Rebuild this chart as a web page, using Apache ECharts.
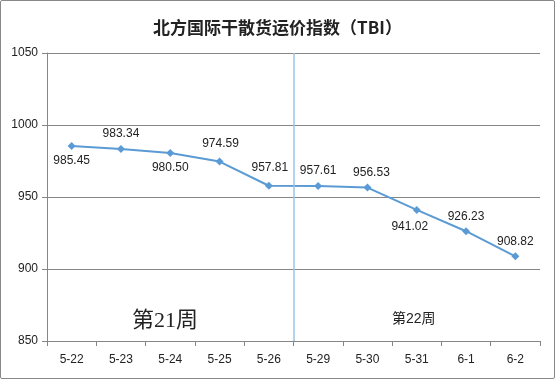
<!DOCTYPE html>
<html><head><meta charset="utf-8">
<script src="https://cdn.jsdelivr.net/npm/echarts@6/dist/echarts.min.js"></script>
<style>
html,body{margin:0;padding:0;background:#fff;}
#c{width:555px;height:379px;box-sizing:border-box;border:1px solid #888;border-radius:2px;}
</style></head>
<body><div id="c"></div>
<script>
var title = '北方国际干散货运价指数（TBI）';
var categories = ['5-22','5-23','5-24','5-25','5-26','5-29','5-30','5-31','6-1','6-2'];
var values = [985.45, 983.34, 980.50, 974.59, 957.81, 957.61, 956.53, 941.02, 926.23, 908.82];
var labelPos = ['bottom','top','bottom','top','top','top','top','bottom','top','top'];
var yTicks = [850, 900, 950, 1000, 1050];
var weekLabels = ['第21周', '第22周'];
var weekBoundary = 5;

var chart = echarts.init(document.getElementById('c'), null, {renderer:'canvas'});
var lblFont = {fontFamily:'Liberation Sans, Arial, sans-serif', fontSize:12, color:'#222'};
var data = values.map(function(v,i){
  var off = [0,0];
  if (i === 7) off = [-7, 2];
  if (i === 6) off = [4, 0];
  if (i === 3 || i === 4) off = [1, -3];
  return {value: v, label: {position: labelPos[i], offset: off}};
});
chart.setOption({
  animation:false,
  title:{text:title, left:'center', top:13, textStyle:{fontSize:17, fontWeight:'bold', color:'#222', fontFamily:'Noto Sans CJK SC, sans-serif'}},
  grid:{left:46, right:14, top:52, bottom:37},
  xAxis:[{
    type:'category', data:categories, boundaryGap:true,
    axisLine:{lineStyle:{color:'#868686', width:1}},
    axisTick:{show:true, length:5, lineStyle:{color:'#868686'}},
    axisLabel:{margin:13, fontFamily:'Liberation Sans, Arial, sans-serif', fontSize:12, color:'#222'}
  },{
    type:'value', min:0, max:10, show:false
  }],
  yAxis:{
    type:'value', min:yTicks[0], max:yTicks[yTicks.length-1], interval:50,
    axisLine:{show:true, lineStyle:{color:'#868686'}},
    axisTick:{show:true, length:5, lineStyle:{color:'#868686'}},
    splitLine:{lineStyle:{color:'#868686', width:1}},
    axisLabel:{margin:9, fontFamily:'Liberation Sans, Arial, sans-serif', fontSize:12, color:'#222',
      formatter:function(v){return String(v);}}
  },
  series:[{
    type:'line', data:data, symbol:'diamond', symbolSize:8,
    lineStyle:{color:'#5B9BD5', width:2},
    itemStyle:{color:'#5B9BD5'},
    label:Object.assign({show:true, distance:5, formatter:function(p){return p.value.toFixed(2);}}, lblFont)
  },{
    type:'line', xAxisIndex:1, data:[], silent:true,
    markLine:{symbol:['none','none'], silent:true, label:{show:false},
      lineStyle:{color:'#9DC3E6', type:'solid', width:1.5},
      data:[{xAxis:weekBoundary}]}
  }],
  graphic:[
    {type:'text', left:131, top:309, style:{text:weekLabels[0], font:'22px "Liberation Serif", "Noto Sans CJK SC", serif', fill:'#222'}},
    {type:'text', left:391, top:311, style:{text:weekLabels[1], font:'14px "Liberation Sans", "Noto Sans CJK SC", sans-serif', fill:'#222'}}
  ]
});
</script></body></html>
